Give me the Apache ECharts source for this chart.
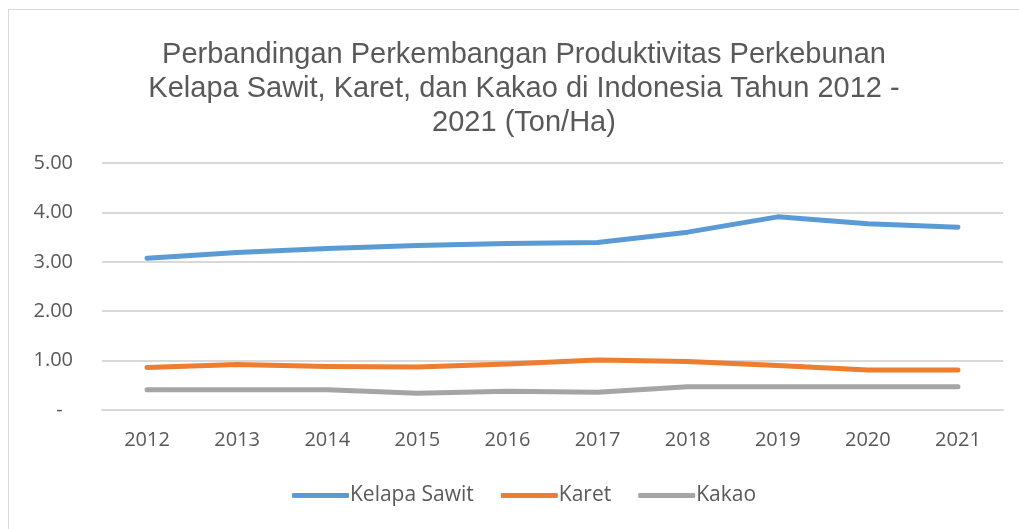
<!DOCTYPE html>
<html>
<head>
<meta charset="utf-8">
<script src="https://cdn.jsdelivr.net/npm/echarts@6/dist/echarts.min.js"></script>
<style>
    html, body { margin: 0; padding: 0; background: #fff; }
    #wrap { position: absolute; left: 8px; top: 9px; width: 1030px; height: 540px; border: 1px solid #d9d9d9; box-sizing: border-box; }
    #charts1 { position: absolute; left: 0; top: 0; width: 1019px; height: 529px; }
</style>
</head>
<body>
<div id="wrap"></div>
<div id="charts1"></div>
<script>
//数据
const years = ['2012', '2013', '2014', '2015', '2016', '2017', '2018', '2019', '2020', '2021'];
const kelapaSawit = [3.07, 3.19, 3.27, 3.33, 3.37, 3.39, 3.60, 3.91, 3.77, 3.70];
const karet = [0.86, 0.92, 0.88, 0.87, 0.93, 1.01, 0.98, 0.90, 0.81, 0.81];
const kakao = [0.41, 0.41, 0.41, 0.34, 0.38, 0.36, 0.47, 0.47, 0.47, 0.47];
const yTicks = [0, 1, 2, 3, 4, 5];

const textColor = '#595959';
const titleFont = '"Liberation Sans", Arial, sans-serif';
const bodyFont = '"Open Sans", sans-serif';

let charts1 = echarts.init(document.getElementById('charts1'));

function makeSeries(name, data, color) {
    return {
        name: name,
        type: 'line',
        data: data,
        symbol: 'none',
        smooth: false,
        lineStyle: { color: color, width: 5, cap: 'round', join: 'round' },
        itemStyle: { color: color }
    };
}

let option = {
    animation: false,
    title: {
        text: 'Perbandingan Perkembangan Produktivitas Perkebunan\nKelapa Sawit, Karet, dan Kakao di Indonesia Tahun 2012 -\n2021 (Ton/Ha)',
        left: 519,
        textAlign: 'center',
        top: 33,
        textStyle: {
            color: textColor,
            fontSize: 29,
            fontWeight: 'normal',
            fontFamily: titleFont,
            lineHeight: 34
        }
    },
    legend: {
        top: 480,
        left: 287,
        itemWidth: 57,
        itemHeight: 5,
        itemGap: 27,
        icon: 'roundRect',
        data: ['Kelapa Sawit', 'Karet', 'Kakao'],
        textStyle: { color: textColor, fontSize: 21, fontFamily: bodyFont, padding: [0, 0, 0, -4] }
    },
    grid: {
        left: 102,
        right: 16,
        top: 163,
        bottom: 119,
        containLabel: false
    },
    xAxis: {
        type: 'category',
        boundaryGap: true,
        data: years,
        axisLine: { show: true, lineStyle: { color: '#d9d9d9', width: 2 } },
        axisTick: { show: false },
        axisLabel: { color: textColor, fontSize: 20, fontFamily: bodyFont, margin: 20 }
    },
    yAxis: {
        type: 'value',
        min: yTicks[0],
        max: yTicks[yTicks.length - 1],
        interval: 1,
        axisLine: { show: false },
        axisTick: { show: false },
        splitLine: { lineStyle: { color: '#d9d9d9', width: 2 } },
        axisLabel: {
            color: textColor,
            fontSize: 20,
            fontFamily: bodyFont,
            margin: 29,
            formatter: function (v) {
                return v === 0 ? '-  ' : v.toFixed(2);
            }
        }
    },
    series: [
        makeSeries('Kelapa Sawit', kelapaSawit, '#5b9bd5'),
        makeSeries('Karet', karet, '#ed7d31'),
        makeSeries('Kakao', kakao, '#a5a5a5')
    ]
};
charts1.setOption(option);
</script>
</body>
</html>
